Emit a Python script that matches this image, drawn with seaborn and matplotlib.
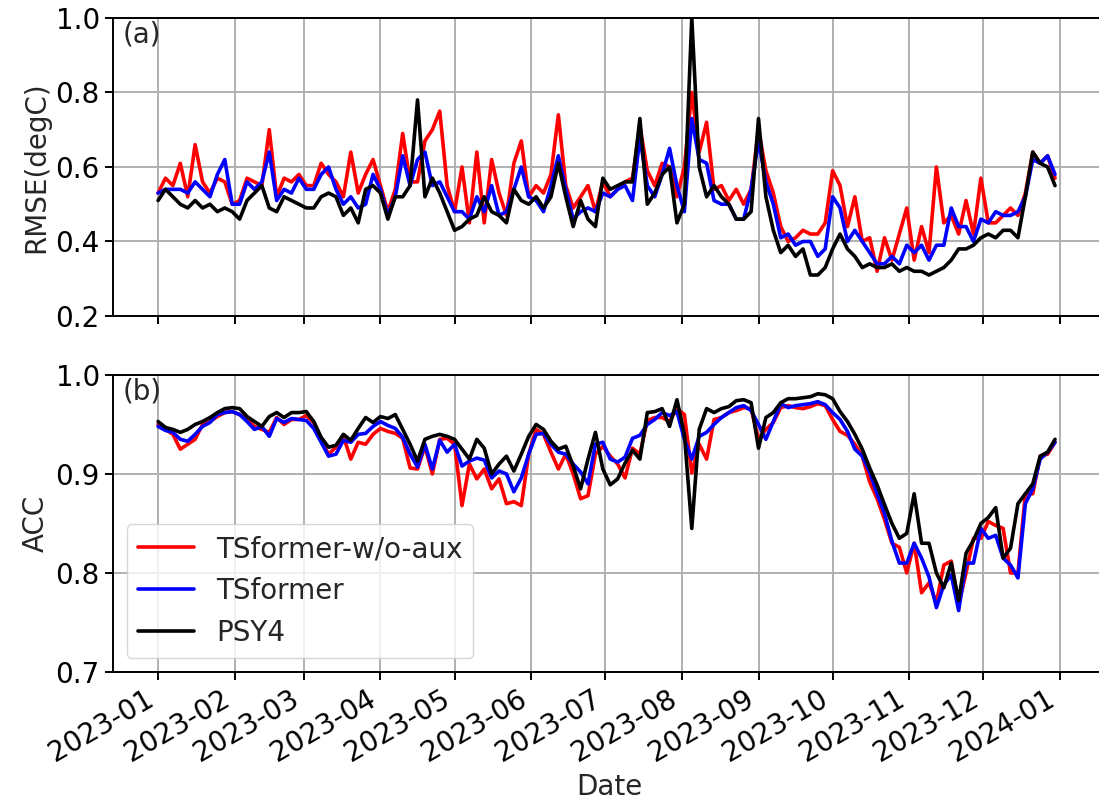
import numpy as np
import pandas as pd
import matplotlib
matplotlib.use("Agg")
import matplotlib.pyplot as plt
import matplotlib.dates as mdates
import seaborn as sns

# sampled every 3 days starting 2023-01-01
dates = pd.date_range("2023-01-01", periods=122, freq="3D")

rmse_wo_aux = [
    0.53, 0.57, 0.55, 0.61, 0.52, 0.66, 0.56, 0.53, 0.57, 0.56,
    0.50, 0.51, 0.57, 0.56, 0.55, 0.70, 0.52, 0.57, 0.56, 0.58,
    0.55, 0.55, 0.61, 0.58, 0.56, 0.52, 0.64, 0.53, 0.58, 0.62,
    0.55, 0.48, 0.54, 0.69, 0.56, 0.56, 0.67, 0.70, 0.75, 0.55,
    0.48, 0.60, 0.45, 0.64, 0.45, 0.62, 0.53, 0.47, 0.61, 0.67,
    0.52, 0.55, 0.53, 0.58, 0.74, 0.55, 0.49, 0.52, 0.55, 0.48,
    0.56, 0.52, 0.54, 0.56, 0.57, 0.71, 0.59, 0.55, 0.61, 0.60,
    0.52, 0.60, 0.80, 0.64, 0.72, 0.54, 0.55, 0.51, 0.54, 0.50,
    0.54, 0.70, 0.59, 0.53, 0.44, 0.40, 0.41, 0.43, 0.42, 0.42,
    0.45, 0.59, 0.55, 0.44, 0.52, 0.40, 0.41, 0.32, 0.41, 0.35,
    0.42, 0.49, 0.35, 0.44, 0.37, 0.60, 0.45, 0.47, 0.42, 0.51,
    0.42, 0.57, 0.45, 0.45, 0.47, 0.49, 0.47, 0.53, 0.64, 0.61,
    0.63, 0.57,
]
rmse_tsformer = [
    0.53, 0.54, 0.54, 0.54, 0.53, 0.56, 0.54, 0.52, 0.58, 0.62,
    0.50, 0.50, 0.56, 0.54, 0.56, 0.64, 0.51, 0.54, 0.53, 0.57,
    0.54, 0.54, 0.58, 0.60, 0.54, 0.50, 0.52, 0.49, 0.50, 0.58,
    0.54, 0.47, 0.52, 0.63, 0.55, 0.62, 0.64, 0.55, 0.56, 0.52,
    0.48, 0.48, 0.46, 0.52, 0.48, 0.55, 0.47, 0.48, 0.54, 0.60,
    0.52, 0.51, 0.48, 0.55, 0.63, 0.54, 0.46, 0.48, 0.49, 0.48,
    0.53, 0.52, 0.54, 0.55, 0.51, 0.68, 0.55, 0.52, 0.58, 0.65,
    0.55, 0.48, 0.73, 0.62, 0.61, 0.51, 0.50, 0.50, 0.46, 0.46,
    0.54, 0.67, 0.56, 0.50, 0.41, 0.42, 0.39, 0.40, 0.40, 0.36,
    0.38, 0.52, 0.49, 0.40, 0.43, 0.40, 0.37, 0.34, 0.34, 0.36,
    0.34, 0.39, 0.37, 0.39, 0.35, 0.39, 0.39, 0.49, 0.44, 0.44,
    0.40, 0.46, 0.45, 0.48, 0.47, 0.47, 0.48, 0.52, 0.62, 0.61,
    0.63, 0.58,
]
rmse_psy4 = [
    0.51, 0.54, 0.52, 0.50, 0.49, 0.51, 0.49, 0.50, 0.48, 0.49,
    0.48, 0.46, 0.51, 0.53, 0.55, 0.49, 0.48, 0.52, 0.51, 0.50,
    0.49, 0.49, 0.52, 0.53, 0.52, 0.47, 0.49, 0.45, 0.54, 0.55,
    0.53, 0.46, 0.52, 0.52, 0.55, 0.78, 0.52, 0.57, 0.53, 0.48,
    0.43, 0.44, 0.46, 0.47, 0.52, 0.48, 0.47, 0.45, 0.54, 0.51,
    0.50, 0.52, 0.49, 0.52, 0.61, 0.52, 0.44, 0.51, 0.46, 0.44,
    0.57, 0.54, 0.55, 0.56, 0.56, 0.73, 0.50, 0.53, 0.58, 0.60,
    0.45, 0.50, 1.00, 0.60, 0.52, 0.55, 0.52, 0.50, 0.46, 0.46,
    0.48, 0.73, 0.52, 0.43, 0.37, 0.39, 0.36, 0.38, 0.31, 0.31,
    0.33, 0.38, 0.42, 0.38, 0.36, 0.33, 0.34, 0.33, 0.33, 0.34,
    0.32, 0.33, 0.32, 0.32, 0.31, 0.32, 0.33, 0.35, 0.38, 0.38,
    0.39, 0.41, 0.42, 0.41, 0.43, 0.43, 0.41, 0.52, 0.64, 0.61,
    0.60, 0.55,
]

acc_wo_aux = [
    0.950, 0.945, 0.940, 0.925, 0.930, 0.935, 0.950, 0.953, 0.958, 0.962,
    0.963, 0.960, 0.955, 0.948, 0.945, 0.942, 0.957, 0.950, 0.955, 0.955,
    0.959, 0.952, 0.934, 0.920, 0.927, 0.938, 0.915, 0.932, 0.930, 0.940,
    0.946, 0.943, 0.941, 0.936, 0.906, 0.905, 0.928, 0.900, 0.935, 0.936,
    0.930, 0.868, 0.910, 0.895, 0.905, 0.885, 0.895, 0.870, 0.872, 0.868,
    0.920, 0.945, 0.940, 0.922, 0.905, 0.920, 0.900, 0.875, 0.878, 0.920,
    0.928, 0.918, 0.910, 0.896, 0.926, 0.920, 0.954, 0.957, 0.957, 0.953,
    0.966, 0.960, 0.901, 0.930, 0.915, 0.955, 0.957, 0.962, 0.964, 0.967,
    0.966, 0.935, 0.945, 0.952, 0.967, 0.969, 0.967, 0.966, 0.968, 0.971,
    0.969, 0.955, 0.943, 0.939, 0.930, 0.918, 0.892, 0.875, 0.854, 0.830,
    0.826, 0.800, 0.830, 0.780, 0.790, 0.770, 0.808, 0.812, 0.768, 0.800,
    0.835, 0.835, 0.852, 0.848, 0.845, 0.800, 0.800, 0.880, 0.880, 0.918,
    0.920, 0.932,
]
acc_tsformer = [
    0.948, 0.944, 0.942, 0.935, 0.933, 0.940, 0.948, 0.952, 0.960, 0.962,
    0.963, 0.960, 0.953, 0.945, 0.948, 0.938, 0.956, 0.952, 0.956, 0.955,
    0.954, 0.946, 0.932, 0.918, 0.920, 0.934, 0.932, 0.940, 0.941, 0.948,
    0.953, 0.949, 0.946, 0.937, 0.920, 0.907, 0.930, 0.905, 0.934, 0.922,
    0.930, 0.908, 0.913, 0.916, 0.914, 0.896, 0.903, 0.900, 0.882, 0.896,
    0.920, 0.940, 0.941, 0.930, 0.922, 0.920, 0.910, 0.902, 0.890, 0.930,
    0.932, 0.915, 0.912, 0.917, 0.936, 0.939, 0.950, 0.955, 0.962, 0.959,
    0.963, 0.935, 0.915, 0.938, 0.942, 0.950, 0.957, 0.962, 0.967, 0.969,
    0.964, 0.950, 0.935, 0.953, 0.971, 0.967, 0.969, 0.970, 0.971, 0.973,
    0.970, 0.962, 0.955, 0.943, 0.925, 0.918, 0.902, 0.880, 0.860, 0.832,
    0.810, 0.810, 0.830, 0.815, 0.796, 0.765, 0.788, 0.798, 0.762, 0.810,
    0.810, 0.845, 0.835, 0.838, 0.815, 0.808, 0.795, 0.870, 0.885, 0.915,
    0.922, 0.932,
]
acc_psy4 = [
    0.953, 0.947, 0.945, 0.942, 0.945, 0.950, 0.953, 0.957, 0.962, 0.966,
    0.967, 0.966, 0.958, 0.953, 0.948, 0.958, 0.962, 0.957, 0.962, 0.962,
    0.963, 0.953, 0.937, 0.927, 0.929, 0.940, 0.934, 0.946, 0.957, 0.952,
    0.958, 0.956, 0.960, 0.945, 0.930, 0.913, 0.935, 0.938, 0.940, 0.938,
    0.935, 0.925, 0.915, 0.935, 0.926, 0.900, 0.910, 0.918, 0.903, 0.920,
    0.938, 0.950, 0.945, 0.933, 0.925, 0.928, 0.908, 0.885, 0.915, 0.942,
    0.905, 0.889, 0.895, 0.911, 0.924, 0.915, 0.962, 0.963, 0.966, 0.948,
    0.975, 0.940, 0.845, 0.945, 0.966, 0.962, 0.966, 0.968, 0.974, 0.975,
    0.972, 0.926, 0.957, 0.962, 0.972, 0.976, 0.976, 0.977, 0.978, 0.981,
    0.980, 0.976, 0.963, 0.953, 0.940, 0.925, 0.906, 0.889, 0.869, 0.850,
    0.835, 0.840, 0.880, 0.830, 0.830, 0.800, 0.785, 0.810, 0.772, 0.820,
    0.833, 0.850, 0.856, 0.866, 0.815, 0.825, 0.870, 0.880, 0.890, 0.918,
    0.922, 0.935,
]

series_names = ["TSformer-w/o-aux", "TSformer", "PSY4"]
series_colors = ["red", "blue", "black"]

sns.set_style("ticks")
plt.rcParams["font.family"] = ["DejaVu Sans"]
plt.rcParams["font.size"] = 20
plt.rcParams["axes.linewidth"] = 1.4
plt.rcParams["xtick.major.size"] = 6
plt.rcParams["ytick.major.size"] = 6
plt.rcParams["xtick.major.width"] = 1.4
plt.rcParams["ytick.major.width"] = 1.4
plt.rcParams["xtick.color"] = "black"
plt.rcParams["ytick.color"] = "black"
plt.rcParams["axes.edgecolor"] = "black"

FS = 20

df_rmse = pd.DataFrame({"date": dates, series_names[0]: rmse_wo_aux,
                        series_names[1]: rmse_tsformer, series_names[2]: rmse_psy4})
df_acc = pd.DataFrame({"date": dates, series_names[0]: acc_wo_aux,
                       series_names[1]: acc_tsformer, series_names[2]: acc_psy4})

fig = plt.figure(figsize=(10.99, 8.10), dpi=100)
ax1 = fig.add_axes([0.1028, 0.6099, 0.9027, 0.3679])
ax2 = fig.add_axes([0.1028, 0.1704, 0.9027, 0.3667], sharex=ax1)

for name, col in zip(series_names, series_colors):
    sns.lineplot(data=df_rmse, x="date", y=name, color=col, linewidth=2.6, ax=ax1)
    sns.lineplot(data=df_acc, x="date", y=name, color=col, linewidth=2.6, ax=ax2, label=name)

start = pd.Timestamp("2023-01-01")
end = pd.Timestamp("2024-01-01")
pad = pd.Timedelta(days=18.25)

for ax in (ax1, ax2):
    ax.grid(True, color="#b0b0b0", linewidth=1.4)
    ax.set_axisbelow(True)
    ax.xaxis.set_major_locator(mdates.MonthLocator())
    ax.xaxis.set_major_formatter(mdates.DateFormatter("%Y-%m"))
    ax.tick_params(labelsize=FS)
ax1.set_xlim(start - pad, end + pad)

ax1.set_ylim(0.2, 1.0)
ax1.set_yticks([0.2, 0.4, 0.6, 0.8, 1.0])
ax2.set_ylim(0.7, 1.0)
ax2.set_yticks([0.7, 0.8, 0.9, 1.0])
ax1.set_ylabel("RMSE(degC)", fontsize=FS)
ax2.set_ylabel("ACC", fontsize=FS)
ax1.set_xlabel("")
ax2.set_xlabel("Date", fontsize=FS)
plt.setp(ax1.get_xticklabels(), visible=False)
plt.setp(ax2.get_xticklabels(), rotation=30, ha="right")

ax1.text(0.01, 0.99, "(a)", transform=ax1.transAxes, va="top", ha="left", fontsize=FS)
ax2.text(0.01, 0.99, "(b)", transform=ax2.transAxes, va="top", ha="left", fontsize=FS)

ax2.legend(loc="lower left", fontsize=FS, framealpha=0.8)

fig.savefig("out.png", dpi=100)
